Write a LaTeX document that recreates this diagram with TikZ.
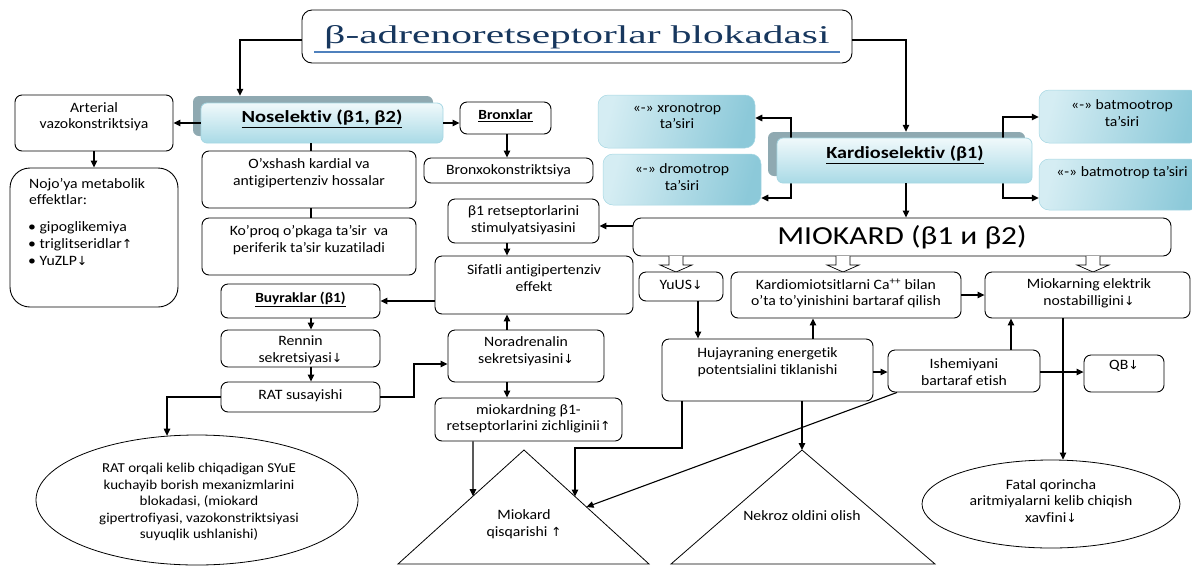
\documentclass[tikz,border=0pt]{standalone}
\usepackage{fontspec}
\setmainfont{Carlito}[FakeStretch=1.1,Ligatures=NoCommon]
\newfontfamily\symf{DejaVu Sans}
\newfontfamily\headf{Liberation Serif}
\usetikzlibrary{arrows.meta,calc,shapes.geometric}

\definecolor{titleblue}{HTML}{17375E}
\definecolor{ulblue}{HTML}{4F81BD}
\definecolor{shadowc}{HTML}{8FA9B1}
\definecolor{glowlight}{HTML}{D5EDF3}
\definecolor{glowdark}{HTML}{8CC9D9}
\definecolor{headtop}{HTML}{F0F9FB}
\definecolor{headbot}{HTML}{A9DAE6}
\definecolor{edgec}{HTML}{A6D7E3}

\newcommand{\arrdn}{{\symf\fontsize{12.5}{12.5}\selectfont ↓}}
\newcommand{\arrup}{{\symf\fontsize{12.5}{12.5}\selectfont ↑}}
\newcommand{\hollowdn}[1]{%
  \draw[hollow] (#1-7,256) -- (#1-7,265) -- (#1-16,265) -- (#1,272)
    -- (#1+16,265) -- (#1+7,265) -- (#1+7,256);}
\newcommand{\wide}[2][1.1]{\scalebox{#1}[1]{#2}}

\tikzset{
  box/.style={draw=black, line width=0.9pt, rounded corners=7pt, inner sep=0pt, fill=white},
  txt/.style={align=center, inner sep=0pt},
  ltxt/.style={align=left, inner sep=0pt, anchor=base west},
  arr/.style={-{Triangle[length=7pt,width=6.5pt]}, line width=1.1pt},
  ln/.style={line width=1.1pt},
  hollow/.style={draw=black, fill=white, line width=0.7pt},
  tri/.style={draw=black, line width=0.8pt},
  oval/.style={ellipse, draw=black, line width=0.8pt, inner sep=0pt, fill=white},
  glow/.style={rounded corners=10pt, left color=glowlight, right color=glowdark,
    shading angle=75, draw=edgec, line width=0.5pt, inner sep=0pt},
  shad/.style={fill=shadowc, rounded corners=6pt, inner sep=0pt},
  headbox/.style={rounded corners=6pt, top color=headtop, bottom color=headbot,
    draw=edgec, line width=0.8pt, inner sep=0pt},
  bighead/.style={font=\fontsize{17}{20}\selectfont\bfseries},
  smallhead/.style={font=\fontsize{14}{16.5}\selectfont\bfseries}
}

\begin{document}
\begin{tikzpicture}[x=1pt,y=-1pt,font=\fontsize{14.3}{16.5}\selectfont]
\useasboundingbox (0,0) rectangle (1192,566);
\clip (0,0) rectangle (1192,566);

% ---------- title ----------
\node[box, rounded corners=10pt, minimum width=550, minimum height=53] (title) at (577,36.5) {};
\node[txt, anchor=base, text=titleblue] (title-t) at (577,43)
  {\resizebox{505pt}{18pt}{\headf β-adrenoretseptorlar blokadasi}};
\draw[ulblue, line width=1.4pt] (314,52) -- (840,52);

% ---------- non-selective branch ----------
\node[shad, minimum width=240, minimum height=40] (nosh) at (313,116) {};
\node[headbox, minimum width=242, minimum height=40] (nosf) at (322,123) {};
\node[txt, bighead] (nosf-t) at (322,119) {\wide{\underline{Noselektiv (β1, β2)}}};

\node[box, minimum width=158, minimum height=56] (arter) at (94,123) {};
\node[txt] (arter-t) at (94,116.5) {Arterial\\vazokonstriktsiya};

\node[box, rounded corners=20pt, minimum width=168, minimum height=139] (nojo) at (94,237.5) {};
\node[ltxt] (nj1) at (29,188.5) {Nojo’ya metabolik};
\node[ltxt] (nj2) at (29,204.5) {effektlar:};
\node[ltxt] (nj3) at (28,231.5) {• gipoglikemiya};
\node[ltxt] (nj4) at (28,248.5) {• triglitseridlar\arrup};
\node[ltxt] (nj5) at (28,265.5) {• YuZLP\arrdn};

\node[box, minimum width=214, minimum height=57] (oxsh) at (309,179.5) {};
\node[txt] (oxsh-t) at (309,173) {O’xshash kardial va\\antigipertenziv hossalar};
\node[box, minimum width=214, minimum height=57] (kopr) at (309,246.5) {};
\node[txt] (kopr-t) at (309,240) {Ko’proq o’pkaga ta’sir\ \ va\\periferik ta’sir kuzatiladi};

\node[box, minimum width=91, minimum height=32] (bron) at (505.5,118) {};
\node[txt, smallhead] (bron-t) at (505.5,116) {\underline{Bronxlar}};
\node[box, minimum width=169, minimum height=25] (bronk) at (508.5,170.5) {};
\node[txt] (bronk-t) at (508.5,170.5) {Bronxokonstriktsiya};

\node[box, minimum width=151, minimum height=44] (b1st) at (523.5,221) {};
\node[txt] (b1st-t) at (523.5,220) {β1 retseptorlarini\\stimulyatsiyasini};
\node[box, minimum width=198, minimum height=58] (sifat) at (534,285) {};
\node[txt] (sifat-t) at (534,278) {Sifatli antigipertenziv\\effekt};

\node[box, minimum width=159, minimum height=34] (buyr) at (300.5,301) {};
\node[txt, smallhead] (buyr-t) at (300.5,299) {\underline{Buyraklar (β1)}};
\node[box, minimum width=159, minimum height=37] (renn) at (300.5,348.5) {};
\node[txt] (renn-t) at (300.5,350) {Rennin\\sekretsiyasi\arrdn};
\node[box, minimum width=159, minimum height=30] (rats) at (300.5,397) {};
\node[txt] (rats-t) at (300.5,396) {RAT susayishi};

\node[oval, minimum width=322, minimum height=130] (ratorq) at (197,500) {};
\node[txt, font=\fontsize{13.6}{16.5}\selectfont] (ratorq-t) at (199,502) {RAT orqali kelib chiqadigan SYuE\\kuchayib borish mexanizmlarini\\blokadasi, (miokard\\gipertrofiyasi, vazokonstriktsiyasi\\suyuqlik ushlanishi)};

\node[box, minimum width=156, minimum height=52] (norad) at (526,356) {};
\node[txt] (norad-t) at (526,351) {Noradrenalin\\sekretsiyasini\arrdn};
\node[box, minimum width=187, minimum height=43] (miob) at (528.5,419.5) {};
\node[txt] (miob-t) at (528.5,419) {miokardning β1-\\retseptorlarini zichliginii\arrup};

% ---------- triangles ----------
\coordinate (mqA) at (524,450);
\coordinate (mqB) at (398,564);
\coordinate (mqC) at (649,564);
\draw[tri] (mqA) -- (mqB) -- (mqC) -- cycle;
\node[txt] (mq-t) at (524,524) {Miokard\\qisqarishi \arrup};
\coordinate (mqL) at ($(mqA)!0.405!(mqB)$);
\coordinate (mqR) at ($(mqA)!0.408!(mqC)$);
\coordinate (mqS) at ($(mqA)!0.5!(mqC)$);

\coordinate (nkA) at (802,450);
\coordinate (nkB) at (671,564);
\coordinate (nkC) at (935,564);
\draw[tri] (nkA) -- (nkB) -- (nkC) -- cycle;
\node[txt] (nk-t) at (802,516) {Nekroz oldini olish};

% ---------- myocardium ----------
\node[box, rounded corners=8pt, minimum width=538, minimum height=38] (miok) at (902,237) {};
\node[txt, font=\fontsize{26}{30}\selectfont] (miok-t) at (902,237.5) {\wide{MIOKARD (β1 и β2)}};
\hollowdn{676}
\hollowdn{843}
\hollowdn{1093}

\node[box, minimum width=84, minimum height=29] (yuus) at (681,286.5) {};
\node[txt] (yuus-t) at (681,285) {YuUS\arrdn};
\node[box, minimum width=230, minimum height=46] (kard) at (846,295) {};
\node[txt] (kard-t) at (846,293.5) {Kardiomiotsitlarni Ca\textsuperscript{++} bilan\\o’ta to’yinishini bartaraf qilish};
\node[box, minimum width=205, minimum height=46] (mioel) at (1087.5,295) {};
\node[txt] (mioel-t) at (1089,293.5) {Miokarning elektrik\\nostabilligini\arrdn};

\node[box, minimum width=211, minimum height=62] (huj) at (767.5,370) {};
\node[txt] (huj-t) at (767.5,362) {Hujayraning energetik\\potentsialini tiklanishi};
\node[box, minimum width=152, minimum height=42] (ishem) at (964,371) {};
\node[txt] (ishem-t) at (964,372) {Ishemiyani\\bartaraf etish};
\node[box, minimum width=80, minimum height=37] (qb) at (1124,373.5) {};
\node[txt] (qb-t) at (1124,366) {QB\arrdn};

\node[oval, minimum width=258, minimum height=88] (fatal) at (1051,504) {};
\node[txt] (fatal-t) at (1051,501) {Fatal qorincha\\aritmiyalarni kelib chiqish\\xavfini\arrdn};

% ---------- cardioselective branch ----------
\node[glow, minimum width=157, minimum height=53] (xron) at (676.5,121.5) {};
\node[txt] (xron-t) at (677,116) {«-» xronotrop\\ta’siri};
\node[glow, minimum width=158, minimum height=51] (drom) at (682,179.5) {};
\node[txt] (drom-t) at (682,177) {«-» dromotrop\\ta’siri};
\node[glow, minimum width=161, minimum height=53] (batoo) at (1119.5,116.5) {};
\node[txt] (batoo-t) at (1122,113) {«-» batmootrop\\ta’siri};
\node[glow, minimum width=161, minimum height=51] (batmot) at (1119.5,184.5) {};
\node[txt] (batmot-t) at (1122,173) {«-» batmotrop ta’siri};

\node[shad, minimum width=257, minimum height=44] (kssh) at (896.5,154) {};
\coordinate (kl) at (791,160);
\coordinate (kr) at (1003,160);
\draw[arr] (kl) |- (xron.east |- 0,118);
\draw[arr] (kl) |- (drom.east |- 0,198);
\draw[arr] (kr) |- (batoo.west |- 0,117);
\draw[arr] (kr) |- (batmot.west |- 0,198);
\node[headbox, minimum width=255, minimum height=45] (ksf) at (904.5,160.5) {};
\node[txt, bighead] (ksf-t) at (905,155) {\wide[1.08]{\underline{Kardioselektiv (β1)}}};

% ---------- connectors ----------
\draw[arr] (title.west |- 0,40) -| (240,0 |- nosh.north);
\draw[arr] (title.east |- 0,40) -| (906,0 |- kssh.north);
\draw[arr] (nosf.west |- 0,123) -- (arter.east |- 0,123);
\draw[arr] (arter.south) -- (nojo.north);
\draw[ln] (311,0 |- nosf.south) -- (311,0 |- oxsh.north);
\draw[ln] (311,0 |- oxsh.south) -- (311,0 |- kopr.north);
\draw[arr] (nosf.east |- 0,123) -- (bron.west |- 0,123);
\draw[arr] (507,0 |- bron.south) -- (507,0 |- bronk.north);
\draw[arr] (miok.west |- 0,226) -- (b1st.east |- 0,226);
\draw[arr] (507,0 |- b1st.south) -- (507,0 |- sifat.north);
\draw[arr] (sifat.west |- 0,301) -- (buyr.east |- 0,301);
\draw[arr] (311,0 |- buyr.south) -- (311,0 |- renn.north);
\draw[arr] (311,0 |- renn.south) -- (311,0 |- rats.north);
\draw[arr] (rats.east |- 0,397) -- (414,397) -- (414,364) -- (norad.west |- 0,364);
\draw[arr] (rats.west |- 0,397) -| (ratorq.115);
\draw[arr] (507,0 |- norad.north) -- (507,0 |- sifat.south);
\draw[arr] (507,0 |- norad.south) -- (507,0 |- miob.north);
\draw[arr] (473,0 |- miob.south) -- (mqL);
\draw[arr] (682,0 |- huj.south) -- (682,448) -| (mqR);
\draw[arr] (897,0 |- ishem.south) -- (mqS);
\draw[arr] (698,0 |- yuus.south) -- (698,0 |- huj.north);
\draw[arr] (813,0 |- huj.north) -- (813,0 |- kard.south);
\draw[arr] (huj.east |- 0,372) -- (ishem.west |- 0,372);
\draw[arr] (802,0 |- huj.south) -- (nkA);
\draw[arr] (1011,0 |- ishem.north) -- (1011,0 |- mioel.south);
\draw[arr] (ishem.east |- 0,372) -- (qb.west |- 0,372);
\draw[arr] (1063,0 |- mioel.south) -- (1063,0 |- fatal.north);
\draw[arr] (kard.east |- 0,295) -- (mioel.west |- 0,295);
\draw[arr] (906,0 |- ksf.south) -- (906,0 |- miok.north);
\end{tikzpicture}
\end{document}
